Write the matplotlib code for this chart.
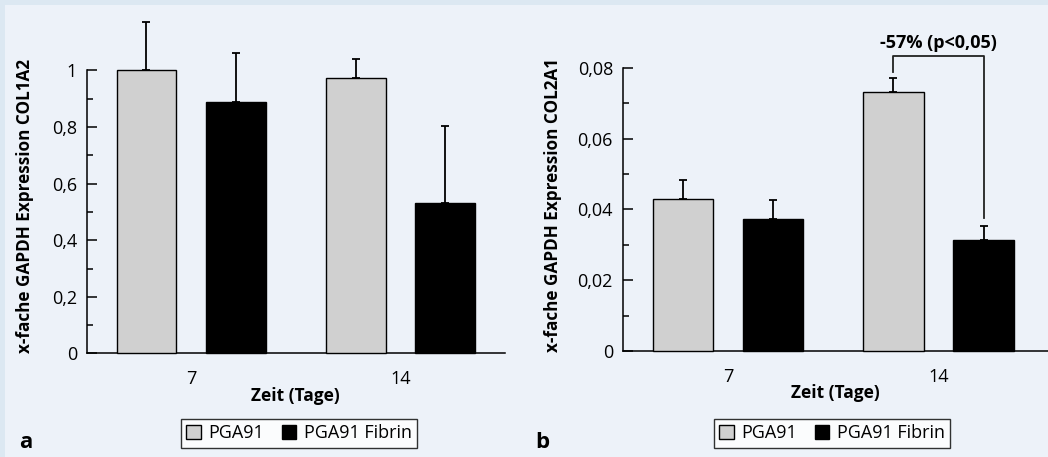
import numpy as np
import matplotlib
matplotlib.use("Agg")
import matplotlib.pyplot as plt
from matplotlib.patches import Rectangle, Patch
from matplotlib.ticker import FixedLocator, FuncFormatter

days = ["7", "14"]
series = ["PGA91", "PGA91 Fibrin"]

# panel a: COL1A2
col1a2_pga = [1.0, 0.972]
col1a2_pga_err = [0.169, 0.067]
col1a2_fib = [0.889, 0.533]
col1a2_fib_err = [0.173, 0.271]

# panel b: COL2A1
col2a1_pga = [0.0429, 0.0732]
col2a1_pga_err = [0.0054, 0.0038]
col2a1_fib = [0.0374, 0.0313]
col2a1_fib_err = [0.0052, 0.0041]

sig_text = "-57% (p<0,05)"

plt.rcParams['font.family'] = ['Open Sans', 'DejaVu Sans']

W, H = 1048, 457
fig = plt.figure(figsize=(W / 100, H / 100), dpi=100)
fig.patch.set_facecolor('#dce8f2')
fig.add_artist(Rectangle((5 / W, 0), 1, 1 - 5 / H, transform=fig.transFigure,
                         facecolor='#edf2f9', edgecolor='none', zorder=-10))

GRAY = '#d0d0d0'
bw = 0.286
off = 0.214
x = np.arange(len(days))


def comma_fmt(decimals):
    def f(v, pos):
        if abs(v) < 1e-12:
            return "0"
        if abs(v - round(v)) < 1e-9:
            return str(int(round(v)))
        return f"{v:.{decimals}f}".replace('.', ',')
    return FuncFormatter(f)


def draw_panel(rect, pga, pga_err, fib, fib_err, ymax, major, minor, dec, ylabel, xlim, lab_xy):
    ax = fig.add_axes(rect)
    ax.set_facecolor('none')
    ax.bar(x - off, pga, bw, color=GRAY, edgecolor='black', linewidth=1, clip_on=False, zorder=3)
    ax.bar(x + off, fib, bw, color='black', edgecolor='black', linewidth=1, clip_on=False, zorder=3)
    for xs, m, e in [(x - off, pga, pga_err), (x + off, fib, fib_err)]:
        ax.errorbar(xs, m, yerr=[np.zeros(len(e)), e], fmt='none', ecolor='black',
                    elinewidth=1.3, capsize=3, capthick=1.3, clip_on=False, zorder=2)
    ax.set_xlim(*xlim)
    ax.set_ylim(0, ymax)
    ax.spines['top'].set_visible(False)
    ax.spines['right'].set_visible(False)
    ax.spines['left'].set_bounds(0, ymax)
    ax.spines['left'].set_linewidth(1.1)
    ax.spines['bottom'].set_linewidth(1.1)
    ax.yaxis.set_major_locator(FixedLocator(major))
    ax.yaxis.set_minor_locator(FixedLocator(minor))
    ax.yaxis.set_major_formatter(comma_fmt(dec))
    ax.tick_params(axis='y', which='major', direction='in', length=7, width=1.1,
                   labelsize=13, pad=7)
    ax.tick_params(axis='y', which='minor', direction='in', length=4, width=1.1)
    ax.set_xticks(x)
    ax.set_xticklabels(days)
    ax.tick_params(axis='x', length=0, labelsize=13, pad=12)
    ax.set_xlabel("Zeit (Tage)", fontsize=12.5, fontweight='bold', labelpad=-1)
    ax.set_ylabel(ylabel, fontsize=12.3, fontweight='bold')
    ax.yaxis.set_label_coords(*lab_xy)
    return ax


ax_a = draw_panel([0.0827, 0.2265, 0.3992, 0.6197], col1a2_pga, col1a2_pga_err,
                  col1a2_fib, col1a2_fib_err, 1.0,
                  [0, 0.2, 0.4, 0.6, 0.8, 1.0], [0.1, 0.3, 0.5, 0.7, 0.9], 1,
                  "x-fache GAPDH Expression COL1A2", (-0.5, 1.5), (-0.127, 0.52))
ax_b = draw_panel([0.5942, 0.2319, 0.4058, 0.6199], col2a1_pga, col2a1_pga_err,
                  col2a1_fib, col2a1_fib_err, 0.08,
                  [0, 0.02, 0.04, 0.06, 0.08], [0.01, 0.03, 0.05, 0.07], 2,
                  "x-fache GAPDH Expression COL2A1", (-0.5, 1.52), (-0.143, 0.515))

# significance bracket in panel b
xl, xr = 1 - off, 1 + off
ax_b.plot([xl, xl, xr, xr], [0.0789, 0.0832, 0.0832, 0.0375], color='#222222',
          linewidth=1.3, clip_on=False)
ax_b.text((xl + xr) / 2, 0.0871, sig_text, ha='center', va='center',
          fontsize=13, fontweight='bold')

handles = [Patch(facecolor=GRAY, edgecolor='black', linewidth=1),
           Patch(facecolor='black', edgecolor='black', linewidth=1)]
for cx in [299 / W, 832 / W]:
    leg = fig.legend(handles, series, loc='center', bbox_to_anchor=(cx, 1 - 433.5 / H),
                     ncol=2, frameon=True, fancybox=False, fontsize=13,
                     handlelength=0.8, handleheight=0.8, handletextpad=0.4,
                     columnspacing=1.0, borderpad=0.3, borderaxespad=0)
    leg.get_frame().set_edgecolor('black')
    leg.get_frame().set_linewidth(1.0)
    leg.get_frame().set_facecolor('white')

fig.text(26 / W, 1 - 442 / H, "a", fontsize=16, fontweight='bold', ha='center', va='center')
fig.text(542 / W, 1 - 442 / H, "b", fontsize=16, fontweight='bold', ha='center', va='center')

fig.savefig("out.png", dpi=100, facecolor=fig.get_facecolor())
